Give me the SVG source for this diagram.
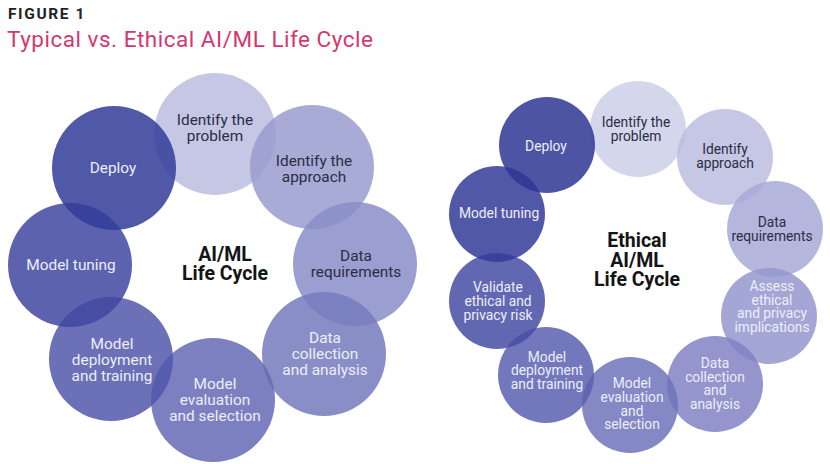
<svg xmlns="http://www.w3.org/2000/svg" width="830" height="464" viewBox="0 0 830 464">
<style>
  .c { fill-opacity: 0.85; }
  .tL { font-family: Roboto, "Liberation Sans", sans-serif; font-size: 15.4px; text-anchor: middle; }
  .tR { font-family: Roboto, "Liberation Sans", sans-serif; font-size: 13.8px; text-anchor: middle; }
  .dk { fill: #2b2d44; }
  .wt { fill: #eceefa; }
  .ctr { font-family: Roboto, "Liberation Sans", sans-serif; font-size: 19.5px; font-weight: bold; text-anchor: middle; fill: #141414; }
</style>
<rect width="830" height="464" fill="#ffffff"/>
<text x="8" y="19" font-family="Roboto, 'Liberation Sans', sans-serif" font-size="15.5" font-weight="bold" letter-spacing="1.6" fill="#222222">FIGURE 1</text>
<text x="7" y="47" font-family="Roboto, 'Liberation Sans', sans-serif" font-size="22.5" textLength="366" lengthAdjust="spacing" fill="#d2386f">Typical vs. Ethical AI/ML Life Cycle</text>

<g id="connectors"></g>

<!-- Left cluster -->
<g id="L-identify-problem"><circle class="c" cx="215" cy="134" r="61" fill="#bbbde0"/>
  <text class="tL dk"><tspan x="215" y="125">Identify the</tspan><tspan x="215" y="141">problem</tspan></text></g>
<g id="L-identify-approach"><circle class="c" cx="312" cy="167" r="62" fill="#999ccf"/>
  <text class="tL dk"><tspan x="314" y="166">Identify the</tspan><tspan x="314" y="182">approach</tspan></text></g>
<g id="L-data-req"><circle class="c" cx="355" cy="264" r="62" fill="#888dc8"/>
  <text class="tL dk"><tspan x="356" y="261">Data</tspan><tspan x="356" y="277">requirements</tspan></text></g>
<g id="L-data-coll"><circle class="c" cx="324" cy="354" r="62" fill="#757abd"/>
  <text class="tL wt"><tspan x="325" y="343">Data</tspan><tspan x="325" y="359">collection</tspan><tspan x="325" y="375">and analysis</tspan></text></g>
<g id="L-model-eval"><circle class="c" cx="213" cy="400" r="62" fill="#656ab5"/>
  <text class="tL wt"><tspan x="215" y="389">Model</tspan><tspan x="215" y="405">evaluation</tspan><tspan x="215" y="421">and selection</tspan></text></g>
<g id="L-model-deploy"><circle class="c" cx="111" cy="359" r="62" fill="#5157aa"/>
  <text class="tL wt"><tspan x="112" y="349">Model</tspan><tspan x="112" y="365">deployment</tspan><tspan x="112" y="381">and training</tspan></text></g>
<g id="L-model-tuning"><circle class="c" cx="70" cy="265" r="62" fill="#3f46a0"/>
  <text class="tL wt" x="71" y="270">Model tuning</text></g>
<g id="L-deploy"><circle class="c" cx="114" cy="168" r="62" fill="#313c99"/>
  <text class="tL wt" x="113" y="173">Deploy</text></g>
<g id="L-center"><text class="ctr"><tspan x="225" y="261">AI/ML</tspan><tspan x="225" y="280">Life Cycle</tspan></text></g>

<!-- Right cluster -->
<g id="R-identify-problem"><circle class="c" cx="638" cy="129" r="48" fill="#cccfe9"/>
  <text class="tR dk"><tspan x="636" y="127">Identify the</tspan><tspan x="636" y="141">problem</tspan></text></g>
<g id="R-identify-approach"><circle class="c" cx="725" cy="157" r="48" fill="#bbbde0"/>
  <text class="tR dk"><tspan x="725" y="154">Identify</tspan><tspan x="725" y="168">approach</tspan></text></g>
<g id="R-data-req"><circle class="c" cx="775" cy="229" r="48" fill="#a7a9d7"/>
  <text class="tR dk"><tspan x="772" y="227">Data</tspan><tspan x="772" y="241">requirements</tspan></text></g>
<g id="R-assess"><circle class="c" cx="769" cy="316" r="48" fill="#9498ce"/>
  <text class="tR wt"><tspan x="772" y="291">Assess</tspan><tspan x="772" y="305">ethical</tspan><tspan x="772" y="318">and privacy</tspan><tspan x="772" y="332">implications</tspan></text></g>
<g id="R-data-coll"><circle class="c" cx="715" cy="384" r="48" fill="#8083c3"/>
  <text class="tR wt"><tspan x="715" y="368">Data</tspan><tspan x="715" y="382">collection</tspan><tspan x="715" y="395">and</tspan><tspan x="715" y="409">analysis</tspan></text></g>
<g id="R-model-eval"><circle class="c" cx="630" cy="405" r="48" fill="#6e73ba"/>
  <text class="tR wt"><tspan x="632" y="388">Model</tspan><tspan x="632" y="402">evaluation</tspan><tspan x="632" y="416">and</tspan><tspan x="632" y="429">selection</tspan></text></g>
<g id="R-model-deploy"><circle class="c" cx="546" cy="375" r="48" fill="#5b60b0"/>
  <text class="tR wt"><tspan x="547" y="362">Model</tspan><tspan x="547" y="375">deployment</tspan><tspan x="547" y="389">and training</tspan></text></g>
<g id="R-validate"><circle class="c" cx="497" cy="301" r="48" fill="#464ca3"/>
  <text class="tR wt"><tspan x="498" y="292">Validate</tspan><tspan x="498" y="306">ethical and</tspan><tspan x="498" y="320">privacy risk</tspan></text></g>
<g id="R-model-tuning"><circle class="c" cx="497" cy="214" r="48" fill="#343b99"/>
  <text class="tR wt" x="499" y="218">Model tuning</text></g>
<g id="R-deploy"><circle class="c" cx="547" cy="145" r="48" fill="#2e3694"/>
  <text class="tR wt" x="546" y="151">Deploy</text></g>
<g id="R-center"><text class="ctr"><tspan x="637" y="247">Ethical</tspan><tspan x="637" y="267">AI/ML</tspan><tspan x="637" y="286">Life Cycle</tspan></text></g>
</svg>
